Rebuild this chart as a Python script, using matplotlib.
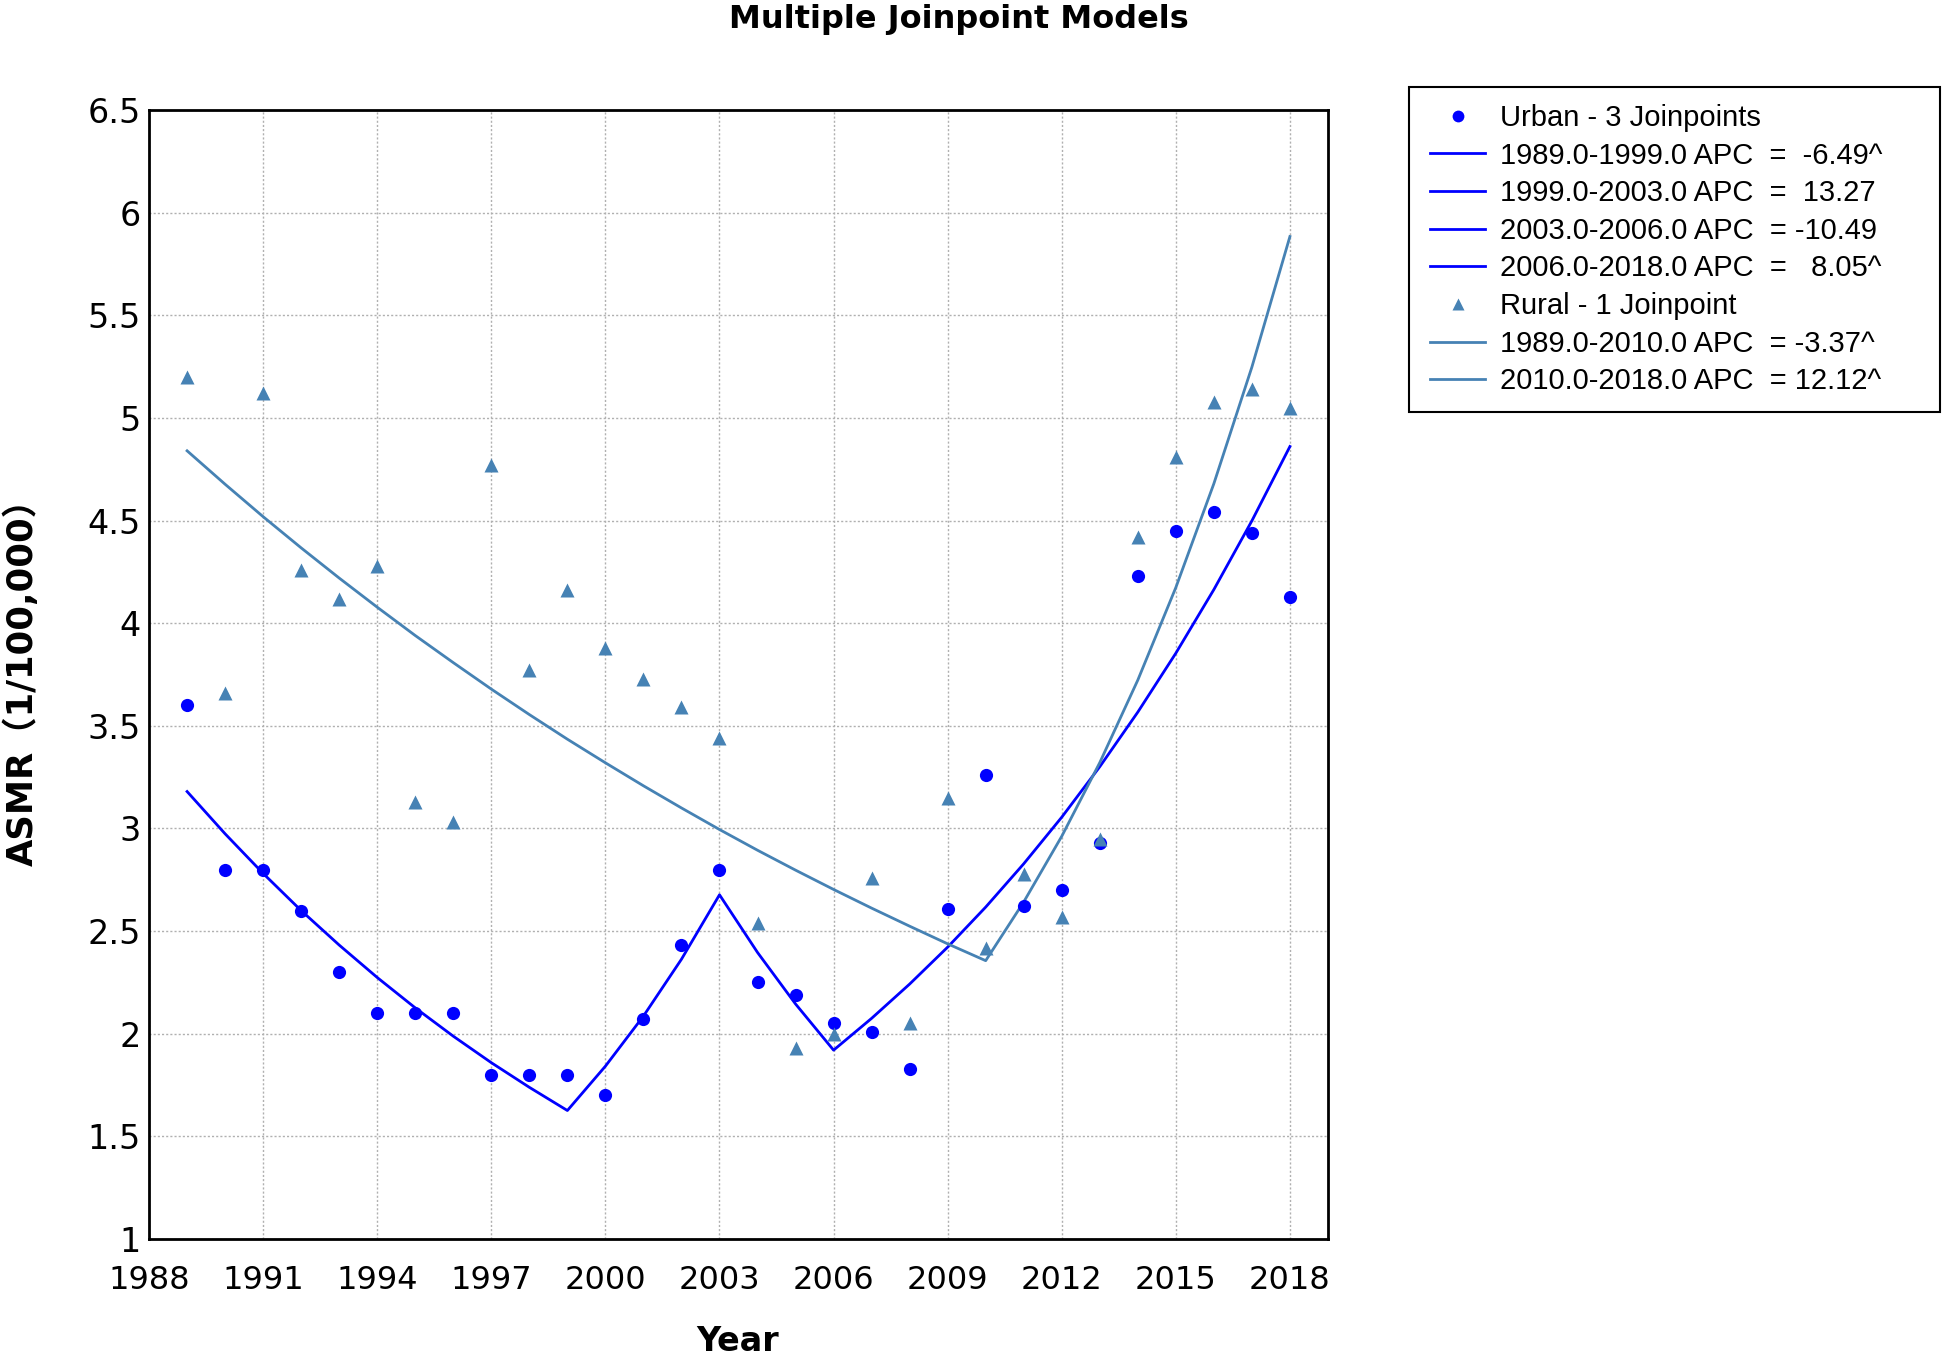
import matplotlib
matplotlib.use("Agg")
import matplotlib.pyplot as plt
from matplotlib.lines import Line2D
from matplotlib.patches import Rectangle

years = list(range(1989, 2019))

urban_obs = [3.60, 2.80, 2.80, 2.60, 2.30, 2.10, 2.10, 2.10, 1.80, 1.80,
             1.80, 1.70, 2.07, 2.43, 2.80, 2.25, 2.19, 2.05, 2.01, 1.83,
             2.61, 3.26, 2.62, 2.70, 2.93, 4.23, 4.45, 4.54, 4.44, 4.13]

rural_obs = [5.20, 3.66, 5.12, 4.26, 4.12, 4.28, 3.13, 3.03, 4.77, 3.77,
             4.16, 3.88, 3.73, 3.59, 3.44, 2.54, 1.93, 2.00, 2.76, 2.05,
             3.15, 2.42, 2.78, 2.57, 2.95, 4.42, 4.81, 5.08, 5.14, 5.05]

urban_fit = [3.180, 2.974, 2.781, 2.600, 2.432, 2.274, 2.126, 1.988, 1.859, 1.739,
             1.626, 1.842, 2.086, 2.363, 2.677, 2.396, 2.145, 1.920, 2.075, 2.242,
             2.422, 2.617, 2.828, 3.055, 3.301, 3.567, 3.854, 4.164, 4.499, 4.861]

rural_fit = [4.840, 4.677, 4.519, 4.367, 4.220, 4.078, 3.940, 3.808, 3.679, 3.555,
             3.435, 3.320, 3.208, 3.100, 2.995, 2.894, 2.797, 2.703, 2.612, 2.524,
             2.438, 2.356, 2.642, 2.962, 3.321, 3.723, 4.174, 4.680, 5.248, 5.884]

legend_labels = ["Urban - 3 Joinpoints",
                 "1989.0-1999.0 APC  =  -6.49^",
                 "1999.0-2003.0 APC  =  13.27",
                 "2003.0-2006.0 APC  = -10.49",
                 "2006.0-2018.0 APC  =   8.05^",
                 "Rural - 1 Joinpoint",
                 "1989.0-2010.0 APC  = -3.37^",
                 "2010.0-2018.0 APC  = 12.12^"]

x_ticks = [1988, 1991, 1994, 1997, 2000, 2003, 2006, 2009, 2012, 2015, 2018]
y_ticks = [1, 1.5, 2, 2.5, 3, 3.5, 4, 4.5, 5, 5.5, 6, 6.5]
y_tick_labels = ["1", "1.5", "2", "2.5", "3", "3.5", "4", "4.5", "5", "5.5", "6", "6.5"]

URBAN = "#0000FF"
RURAL = "#4682B4"

fig = plt.figure(figsize=(19.46, 13.59), dpi=100)
ax = fig.add_axes([0.0766, 0.0883, 0.6058, 0.8307])

ax.plot(years, urban_fit, color=URBAN, lw=2, zorder=3)
ax.plot(years, rural_fit, color=RURAL, lw=2, zorder=3)
ax.plot(years, urban_obs, 'o', color=URBAN, ms=9.5, mec='none', zorder=4)
ax.plot(years, rural_obs, '^', color=RURAL, ms=9.5, mec='none', zorder=4)

ax.set_xlim(1988, 2019)
ax.set_ylim(1, 6.5)
ax.set_xticks(x_ticks)
ax.set_yticks(y_ticks)
ax.set_yticklabels(y_tick_labels)
ax.tick_params(axis='both', length=0)
ax.tick_params(axis='x', pad=19, labelsize=23)
ax.tick_params(axis='y', pad=6, labelsize=24)
ax.grid(True, color='#b0b0b0', linestyle=(0, (1.5, 1.5)), linewidth=1)
for s in ax.spines.values():
    s.set_linewidth(2)
    s.set_color('black')

fig.text(0.4928, 0.9855, "Multiple Joinpoint Models", ha='center', va='center',
         fontsize=23, fontweight='bold')
fig.text(0.379, 0.0129, "Year", ha='center', va='center', fontsize=24, fontweight='bold')
fig.text(0.0115, 0.5045, "ASMR（1/100,000）", ha='center', va='center', rotation=90,
         fontsize=25.5, fontweight='bold', family=['DejaVu Sans', 'Noto Sans CJK SC'])

handles = [
    Line2D([], [], marker='o', color=URBAN, ls='none', ms=8.5, mec='none'),
    Line2D([], [], color=URBAN, lw=2),
    Line2D([], [], color=URBAN, lw=2),
    Line2D([], [], color=URBAN, lw=2),
    Line2D([], [], color=URBAN, lw=2),
    Line2D([], [], marker='^', color=RURAL, ls='none', ms=8.5, mec='none'),
    Line2D([], [], color=RURAL, lw=2),
    Line2D([], [], color=RURAL, lw=2),
]
leg = fig.legend(handles, legend_labels, loc='upper left',
                 bbox_to_anchor=(0.7348, 0.9235), bbox_transform=fig.transFigure,
                 prop={'family': 'Liberation Sans', 'size': 21},
                 frameon=False, handlelength=1.9, handletextpad=0.5, labelspacing=0.33,
                 borderpad=0, borderaxespad=0)

fig.add_artist(Rectangle((0.724, 0.697), 0.273, 0.239, transform=fig.transFigure,
                         facecolor='none', edgecolor='black', linewidth=1.5, zorder=0))

fig.savefig("out.png", dpi=100)
